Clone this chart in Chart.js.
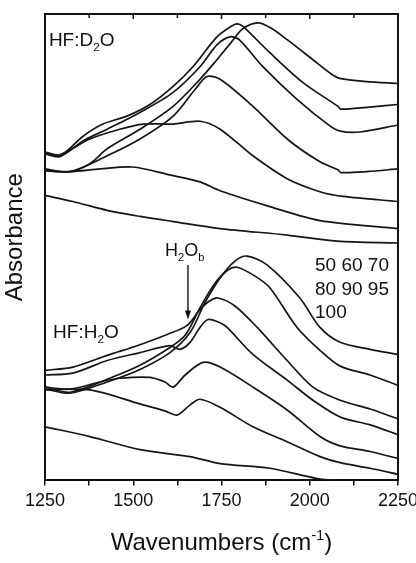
<!DOCTYPE html>
<html>
<head>
<meta charset="utf-8">
<script src="https://cdn.jsdelivr.net/npm/chart.js@4.4.1/dist/chart.umd.min.js"></script>
<style>
    html, body { margin: 0; padding: 0; background: #fff; }
    #wrap { width: 416px; height: 563px; }
</style>
</head>
<body>
<div id="wrap"><canvas id="grafico" width="416" height="563"></canvas></div>
<script>
// HF concentrations listed in the figure (labels only)
const concentracoes = ['50', '60', '70', '80', '90', '95', '100'];
const xTicks = [1250, 1500, 1750, 2000, 2250];

// HF:D2O spectra [wavenumber, absorbance] (arbitrary units, 0-100)
const d2o_1 = [[1250,66.4],[1320,66.2],[1377,67.9],[1426,71.1],[1519,75.3],[1613,80.2],[1689,86.0],[1737,90.2],[1774,93.6],[1810,96.8],[1853,98.1],[1890,97.0],[1936,94.5],[2009,90.2],[2060,87.2],[2085,86.2],[2160,85.5],[2250,85.1]];
const d2o_2 = [[1250,70.4],[1292,69.6],[1358,73.8],[1414,76.4],[1482,78.1],[1547,80.6],[1613,84.5],[1669,88.7],[1737,95.1],[1774,97.2],[1794,97.9],[1810,97.4],[1887,91.7],[1981,85.3],[2080,80.2],[2088,79.6],[2162,80.0],[2250,80.6]];
const d2o_3 = [[1250,70.0],[1292,69.4],[1358,72.8],[1426,75.3],[1519,78.9],[1613,83.2],[1689,88.7],[1737,93.4],[1774,95.1],[1800,94.5],[1867,88.7],[1964,81.7],[2057,76.0],[2086,74.9],[2142,74.7],[2250,76.2]];
const d2o_4 = [[1250,66.8],[1321,66.2],[1426,69.6],[1519,73.2],[1613,78.1],[1675,83.8],[1709,86.6],[1746,86.0],[1839,80.2],[1936,73.2],[2029,68.3],[2080,66.6],[2088,66.0],[2162,66.2],[2250,66.8]];
const d2o_5 = [[1250,70.4],[1292,69.8],[1377,73.2],[1462,75.3],[1528,76.4],[1613,76.4],[1689,77.0],[1746,75.3],[1839,69.6],[1936,64.7],[2029,61.9],[2094,60.9],[2250,59.8]];
const d2o_6 = [[1250,66.4],[1321,66.2],[1406,66.8],[1499,67.2],[1604,65.5],[1689,64.0],[1746,62.1],[1887,58.7],[2029,55.7],[2250,54.0]];
const d2o_7 = [[1250,61.1],[1329,59.8],[1426,57.9],[1519,56.6],[1613,55.5],[1746,54.0],[1936,52.6],[2077,51.3],[2250,50.9]];

// HF:H2O spectra
const h2o_1 = [[1250,19.6],[1321,18.7],[1426,21.1],[1519,23.8],[1604,27.4],[1661,31.7],[1703,38.1],[1746,43.4],[1788,47.0],[1822,48.1],[1879,46.2],[1972,39.1],[2029,32.8],[2086,29.6],[2171,28.1],[2250,27.0]];
const h2o_2 = [[1250,20.0],[1321,18.9],[1426,21.7],[1519,24.7],[1604,28.5],[1647,31.1],[1689,37.0],[1732,42.3],[1768,45.1],[1794,45.7],[1845,43.8],[1887,41.3],[1964,32.8],[2029,27.9],[2086,24.5],[2171,22.6],[2250,20.4]];
const h2o_3 = [[1250,23.6],[1329,24.3],[1426,26.8],[1519,29.1],[1596,31.3],[1652,33.2],[1689,36.6],[1717,38.5],[1740,39.1],[1788,37.4],[1851,32.8],[1936,25.7],[2009,20.0],[2086,17.2],[2171,15.3],[2250,13.2]];
const h2o_4 = [[1250,22.6],[1329,23.0],[1426,25.7],[1519,27.4],[1604,28.9],[1632,28.1],[1661,29.6],[1689,32.8],[1712,34.5],[1746,33.8],[1766,32.8],[1839,27.0],[1936,21.5],[2009,17.2],[2086,13.6],[2171,11.9],[2250,9.8]];
const h2o_5 = [[1250,20.0],[1321,19.6],[1406,21.1],[1462,21.9],[1547,22.1],[1590,21.1],[1613,20.0],[1647,22.6],[1698,25.3],[1746,24.3],[1839,20.0],[1936,15.1],[2029,9.4],[2086,7.4],[2171,6.2],[2250,4.7]];
const h2o_6 = [[1250,19.4],[1377,19.4],[1519,16.4],[1590,14.9],[1624,14.0],[1661,16.2],[1689,17.4],[1746,15.7],[1839,11.5],[1936,8.3],[2029,5.1],[2086,3.8],[2171,2.6],[2250,1.3]];
const h2o_7 = [[1250,11.5],[1377,9.4],[1519,6.6],[1661,5.1],[1746,3.6],[1887,2.6],[2021,0.4],[2086,0],[2250,0]];

const series = [d2o_1, d2o_2, d2o_3, d2o_4, d2o_5, d2o_6, d2o_7,
                h2o_1, h2o_2, h2o_3, h2o_4, h2o_5, h2o_6, h2o_7];

const fonte = '"Liberation Sans", Arial, Helvetica, sans-serif';

// text with sub/superscripts: parts = [[text, 0|-1|1]] (1 = sub, -1 = sup)
function textoRico(ctx, parts, x, y, size){
    let cx = x;
    parts.forEach(function(p){
        let s = p[1] == 0 ? size : size * 0.62;
        let dy = p[1] == 1 ? size * 0.28 : (p[1] == -1 ? -size * 0.42 : 0);
        ctx.font = s + 'px ' + fonte;
        ctx.fillText(p[0], cx, y + dy);
        cx += ctx.measureText(p[0]).width;
    });
    return cx - x;
}

const anotacoes = {
    id: 'anotacoes',
    afterDraw(chart){
        const ctx = chart.ctx;
        const xs = chart.scales.x;
        const ys = chart.scales.y;
        const area = chart.chartArea;

        ctx.save();
        ctx.fillStyle = '#111';
        ctx.strokeStyle = '#111';
        ctx.textBaseline = 'alphabetic';
        ctx.textAlign = 'left';

        // inward ticks on the top border
        ctx.lineWidth = 1.5;
        xs.ticks.forEach(function(t){
            let px = xs.getPixelForValue(t.value);
            let len = t.value % 250 == 0 ? 5 : 4;
            ctx.beginPath();
            ctx.moveTo(px, area.top);
            ctx.lineTo(px, area.top + len);
            ctx.stroke();
        });

        textoRico(ctx, [['HF:D', 0], ['2', 1], ['O', 0]], xs.getPixelForValue(1261), ys.getPixelForValue(93.2), 19);
        textoRico(ctx, [['HF:H', 0], ['2', 1], ['O', 0]], xs.getPixelForValue(1273), ys.getPixelForValue(30.6), 19);
        textoRico(ctx, [['H', 0], ['2', 1], ['O', 0], ['b', 1]], xs.getPixelForValue(1590), ys.getPixelForValue(48.1), 18);

        // arrow to the H2O bending band
        let ax = xs.getPixelForValue(1655);
        let ay0 = ys.getPixelForValue(46.2);
        let ay1 = ys.getPixelForValue(34.5);
        ctx.lineWidth = 1.4;
        ctx.beginPath();
        ctx.moveTo(ax, ay0);
        ctx.lineTo(ax, ay1 - 6);
        ctx.stroke();
        ctx.beginPath();
        ctx.moveTo(ax, ay1);
        ctx.lineTo(ax - 3, ay1 - 9);
        ctx.lineTo(ax + 3, ay1 - 9);
        ctx.closePath();
        ctx.fill();

        // concentration list
        ctx.font = '19px ' + fonte;
        let lx = xs.getPixelForValue(2015);
        ctx.fillText(concentracoes.slice(0, 3).join(' '), lx, ys.getPixelForValue(44.9));
        ctx.fillText(concentracoes.slice(3, 6).join(' '), lx, ys.getPixelForValue(39.8));
        ctx.fillText(concentracoes.slice(6).join(' '), lx, ys.getPixelForValue(34.9));

        // x axis title
        let partes = [['Wavenumbers (cm', 0], ['-1', -1], [')', 0]];
        ctx.fillStyle = 'rgba(0,0,0,0)';
        let w = textoRico(ctx, partes, 0, -100, 24);
        ctx.fillStyle = '#111';
        textoRico(ctx, partes, (area.left + area.right) / 2 - w / 2, area.bottom + 70, 24);

        // y axis title
        ctx.translate(22, (area.top + area.bottom) / 2 - 10);
        ctx.rotate(-Math.PI / 2);
        ctx.textAlign = 'center';
        ctx.font = '24px ' + fonte;
        ctx.fillText('Absorbance', 0, 0);

        ctx.restore();
    }
};

const eixoBorda = { display: true, width: 2, color: '#111' };

new Chart(document.getElementById('grafico'), {
    type: 'line',
    data: {
        datasets: series.map(function(s, i){
            return {
                label: (i < 7 ? 'HF:D2O ' : 'HF:H2O ') + concentracoes[i % 7],
                data: s.map(function(p){ return { x: p[0], y: p[1] }; }),
                borderColor: '#151515',
                borderWidth: 1.7,
                pointRadius: 0,
                tension: 0.3,
                fill: false
            };
        })
    },
    options: {
        responsive: false,
        animation: false,
        devicePixelRatio: 1,
        layout: { padding: { left: 45, right: 18, top: 14, bottom: 46 } },
        plugins: {
            legend: { display: false },
            tooltip: { enabled: false }
        },
        scales: {
            x: {
                type: 'linear',
                position: 'bottom',
                min: 1250,
                max: 2250,
                border: eixoBorda,
                grid: { display: true, drawOnChartArea: false, drawTicks: true, tickLength: 5, color: '#111', lineWidth: 1.5 },
                ticks: {
                    stepSize: 125,
                    autoSkip: false,
                    maxRotation: 0,
                    padding: 5,
                    color: '#111',
                    font: { family: fonte, size: 18 },
                    callback: function(v){ return xTicks.indexOf(v) > -1 ? String(v) : ''; }
                },
                afterFit: function(scale){ scale.paddingRight = 0; scale.paddingLeft = 0; }
            },
            x2: {
                type: 'linear',
                position: 'top',
                min: 1250,
                max: 2250,
                border: eixoBorda,
                grid: { display: true, drawOnChartArea: false, drawTicks: false },
                ticks: { display: false }
            },
            y: {
                type: 'linear',
                position: 'left',
                min: 0,
                max: 100,
                border: eixoBorda,
                grid: { display: true, drawOnChartArea: false, drawTicks: false },
                ticks: { display: false }
            },
            y2: {
                type: 'linear',
                position: 'right',
                min: 0,
                max: 100,
                border: eixoBorda,
                grid: { display: true, drawOnChartArea: false, drawTicks: false },
                ticks: { display: false }
            }
        }
    },
    plugins: [anotacoes]
});
</script>
</body>
</html>
